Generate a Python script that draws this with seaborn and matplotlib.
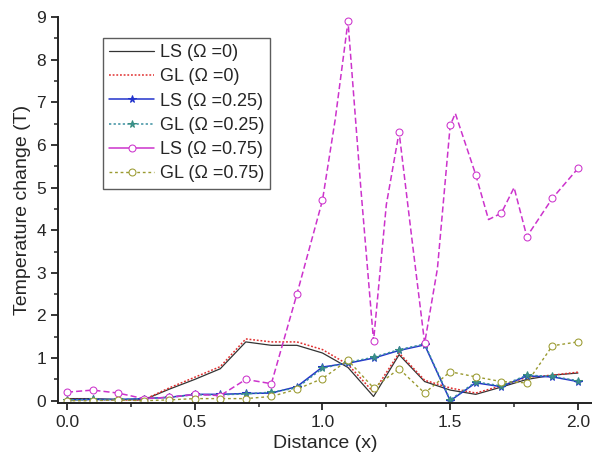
import matplotlib
matplotlib.use("Agg")
import matplotlib.pyplot as plt
import numpy as np
import pandas as pd
import seaborn as sns
from matplotlib.ticker import MultipleLocator

# distance grid shared by all series
x_dist = [0.0, 0.1, 0.2, 0.3, 0.4, 0.5, 0.6, 0.7, 0.8, 0.9, 1.0,
          1.1, 1.2, 1.3, 1.4, 1.5, 1.6, 1.7, 1.8, 1.9, 2.0]

ls_0 = [0.05, 0.05, 0.03, 0.02, 0.27, 0.5, 0.75, 1.38, 1.3, 1.3, 1.12,
        0.78, 0.1, 1.08, 0.45, 0.25, 0.15, 0.32, 0.5, 0.6, 0.65]
gl_0 = [0.03, 0.03, 0.02, 0.02, 0.3, 0.55, 0.8, 1.45, 1.38, 1.38, 1.2,
        0.85, 0.2, 1.12, 0.48, 0.3, 0.18, 0.35, 0.55, 0.6, 0.67]
ls_025 = [0.02, 0.03, 0.03, 0.05, 0.08, 0.15, 0.15, 0.17, 0.18, 0.33, 0.79,
          0.88, 1.0, 1.18, 1.31, 0.0, 0.42, 0.33, 0.58, 0.56, 0.45]
gl_025 = [0.02, 0.03, 0.03, 0.05, 0.08, 0.14, 0.14, 0.16, 0.2, 0.3, 0.76,
          0.9, 1.02, 1.2, 1.33, 0.02, 0.44, 0.35, 0.6, 0.57, 0.47]
ls_075 = [0.2, 0.25, 0.18, 0.05, 0.08, 0.15, 0.12, 0.5, 0.4, 2.5, 4.7,
          8.9, 1.4, 6.3, 1.35, 6.46, 5.3, 4.4, 3.85, 4.75, 5.45]
gl_075 = [0.0, 0.0, 0.02, 0.0, 0.02, 0.05, 0.05, 0.05, 0.1, 0.27, 0.52,
          0.95, 0.3, 0.75, 0.18, 0.68, 0.56, 0.45, 0.42, 1.29, 1.38]

# extra readings along the curved LS (Omega=0.75) line between grid points
ls_075_mid_x = [1.05, 1.15, 1.25, 1.35, 1.45, 1.52, 1.55, 1.65, 1.75, 1.85, 1.95]
ls_075_mid = [6.6, 5.0, 4.6, 3.8, 3.1, 6.74, 6.2, 4.25, 5.0, 4.3, 5.1]

labels = ["LS (\u03a9 =0)", "GL (\u03a9 =0)", "LS (\u03a9 =0.25)",
          "GL (\u03a9 =0.25)", "LS (\u03a9 =0.75)", "GL (\u03a9 =0.75)"]

sns.set_style("ticks")
plt.rcParams["font.family"] = ["Liberation Sans", "DejaVu Sans"]

fig = plt.figure(figsize=(5.92, 4.62), dpi=100)
ax = fig.add_axes([0.098, 0.128, 0.902, 0.835])

styles = [
    dict(color="#333333", lw=0.9, ls="-"),
    dict(color="#e03030", lw=1.1, ls=(0, (1.2, 1.2))),
    dict(color="#2233cc", lw=1.1, ls="-", marker="*", ms=5.5, mec="#2233cc"),
    dict(color="#3a8fa0", lw=1.1, ls=(0, (1.5, 1.5)), marker="*", ms=5.5, mec="#3a8f80"),
    dict(color="#cc33cc", lw=1.1, ls=(0, (4, 2)), marker="o", ms=5, mfc="white", mec="#cc33cc"),
    dict(color="#9a9a30", lw=1.0, ls=(0, (2, 2)), marker="o", ms=5, mfc="white", mec="#9a9a30"),
]

series = [ls_0, gl_0, ls_025, gl_025, ls_075, gl_075]
for i, (vals, lab, st) in enumerate(zip(series, labels, styles)):
    if i == 4:
        df = pd.DataFrame({"x": x_dist + ls_075_mid_x, "y": vals + ls_075_mid})
        df = df.sort_values("x").reset_index(drop=True)
        on_grid = [j for j, v in enumerate(df["x"]) if round(v * 10, 6) == round(v * 10)]
        st = dict(st, markevery=on_grid)
    else:
        df = pd.DataFrame({"x": x_dist, "y": vals})
    sns.lineplot(data=df, x="x", y="y", ax=ax, label=lab, sort=False,
                 estimator=None, **st)

ax.set_xlim(-0.035, 2.055)
ax.set_ylim(-0.05, 9.0)
ax.xaxis.set_major_locator(MultipleLocator(0.5))
ax.xaxis.set_minor_locator(MultipleLocator(0.25))
ax.yaxis.set_major_locator(MultipleLocator(1))
ax.yaxis.set_minor_locator(MultipleLocator(0.5))
ax.set_xticks([0.0, 0.5, 1.0, 1.5, 2.0])
ax.set_xticklabels(["0.0", "0.5", "1.0", "1.5", "2.0"])
ax.tick_params(which="major", length=5, width=1.3, labelsize=12.5, direction="out")
ax.tick_params(which="minor", length=3, width=1.1, direction="out")
sns.despine(ax=ax)
for sp in ("left", "bottom"):
    ax.spines[sp].set_linewidth(1.4)
    ax.spines[sp].set_color("#222222")

ax.set_xlabel("Distance (x)", fontsize=14, labelpad=4)
ax.set_ylabel("Temperature change (T)", fontsize=14, labelpad=4)

leg = ax.legend(loc="upper left", bbox_to_anchor=(0.084, 0.946), fontsize=13,
                frameon=True, fancybox=False, edgecolor="#333333",
                borderpad=0.35, labelspacing=0.4, handlelength=2.5,
                handletextpad=0.3, borderaxespad=0)
leg.get_frame().set_linewidth(1.0)
leg.get_lines()[4].set_linestyle("-")

fig.savefig("out.png", dpi=100)
